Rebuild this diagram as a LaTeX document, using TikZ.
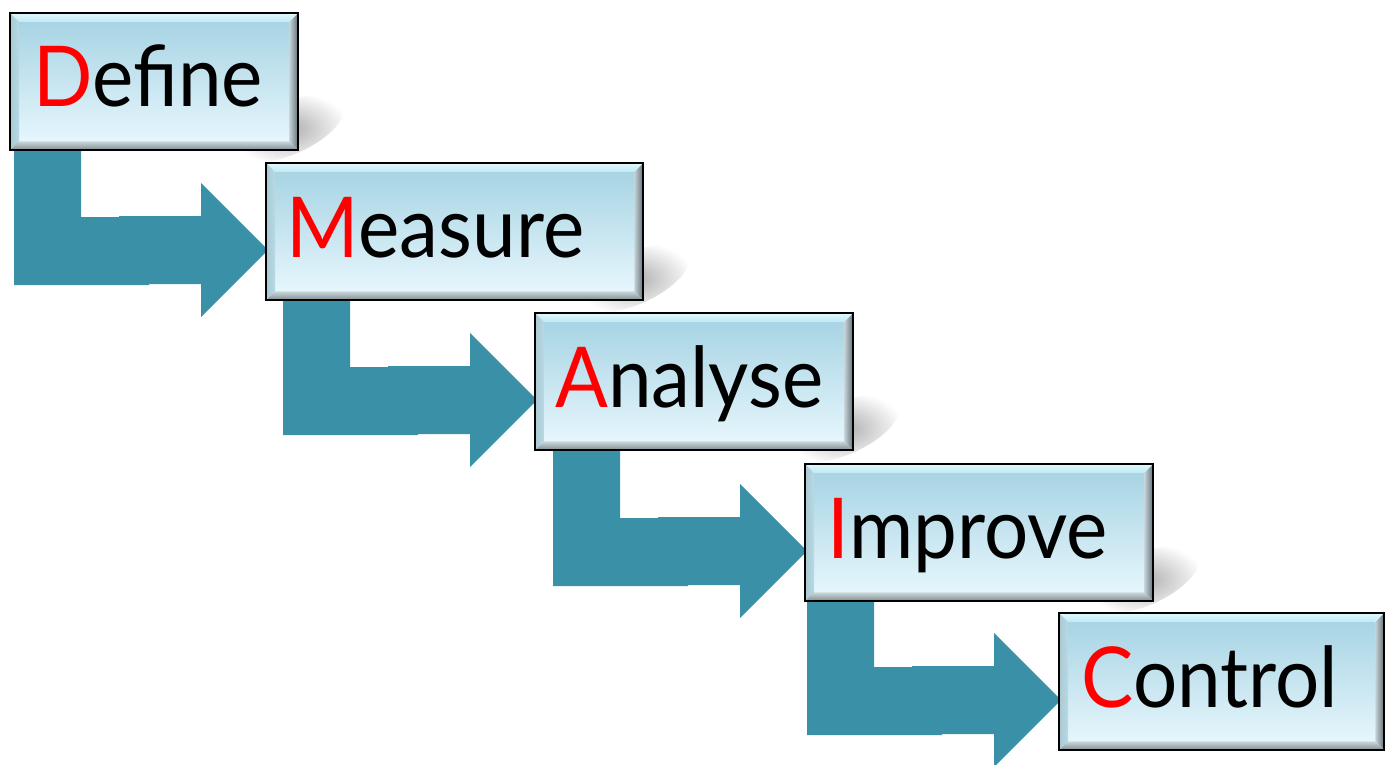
\documentclass[tikz,border=0pt]{standalone}
\usepackage{fontspec}
\setmainfont{Lato}[FakeStretch=0.93]
\usetikzlibrary{calc}
\definecolor{arrowteal}{HTML}{3A90A7}
\definecolor{facetop}{HTML}{A8D4E4}
\definecolor{facebot}{HTML}{E6F6FC}
\definecolor{beveltopa}{HTML}{E2FAFF}
\definecolor{beveltopb}{HTML}{BFE8F4}
\definecolor{bevelleft}{HTML}{B6DAE6}
\definecolor{bevelrightin}{HTML}{C4D2D7}
\definecolor{bevelrightout}{HTML}{5E6E74}
\definecolor{bevelbotin}{HTML}{CAD6DA}
\definecolor{bevelbotout}{HTML}{7C8A8F}
\definecolor{lettered}{HTML}{FF0000}
\tikzset{
  stagebox/.style={rectangle, inner sep=0pt, minimum height=137pt, anchor=north west},
  stagelabel/.style={inner sep=0pt, anchor=base west, font=\fontsize{84}{84}\selectfont, text=black},
  flowshape/.style={fill=arrowteal, draw=none},
}
\newcommand\drawshadow[1]{%
  \shade[inner color=black!32, outer color=white, rotate around={24:($(#1.south east)+(0,-24)$)}]
    ($(#1.south east)+(0,-24)$) ellipse [x radius=60pt, y radius=26pt];}
\newcommand\drawbevel[1]{%
  \coordinate (#1-a) at ($(#1.north west)+(9,9)$);
  \coordinate (#1-b) at ($(#1.north east)+(-9,9)$);
  \coordinate (#1-c) at ($(#1.south east)+(-9,-9)$);
  \coordinate (#1-d) at ($(#1.south west)+(9,-9)$);
  \shade[top color=facetop, bottom color=facebot] (#1-a) rectangle (#1-c);
  \shade[top color=beveltopa, bottom color=beveltopb] (#1.north west) -- (#1.north east) -- (#1-b) -- (#1-a) -- cycle;
  \shade[left color=bevelleft!80!gray, right color=bevelleft] (#1.north west) -- (#1-a) -- (#1-d) -- (#1.south west) -- cycle;
  \shade[left color=bevelrightin, right color=bevelrightout] (#1.north east) -- (#1.south east) -- (#1-c) -- (#1-b) -- cycle;
  \shade[top color=bevelbotin, bottom color=bevelbotout] (#1.south west) -- (#1.south east) -- (#1-c) -- (#1-d) -- cycle;
  \draw[line width=2pt, black] (#1.north west) rectangle (#1.south east);}
\newcommand\drawflow[2]{% #1 target node, #2 name prefix
  \fill[flowshape] ($(#1.north west)+(-252,-22)$) -- ($(#1.north west)+(-185,-22)$) -- ($(#1.north west)+(-185,54)$) -- ($(#1.north west)+(-117,54)$) -- ($(#1.north west)+(-117,122)$) -- ($(#1.north west)+(-252,122)$) -- cycle;
  \coordinate (#2-tip) at ($(#1.north west)+(2,87)$);
  \fill[flowshape] ($(#1.north west)+(-147,53)$) -- ($(#1.north west)+(-65,53)$) -- ($(#1.north west)+(-65,20)$) -- (#2-tip) -- ($(#1.north west)+(-65,154)$) -- ($(#1.north west)+(-65,121)$) -- ($(#1.north west)+(-147,121)$) -- cycle;}
\begin{document}
\begin{tikzpicture}[x=1pt, y=-1pt]
\useasboundingbox (0,0) rectangle (1385,765);
% box placeholders
\path node[stagebox, minimum width=288pt] (def) at (10,13) {}
      node[stagebox, minimum width=377pt] (mea) at (266,163) {}
      node[stagebox, minimum width=318pt] (ana) at (535,313) {}
      node[stagebox, minimum width=348pt] (imp) at (805,464) {}
      node[stagebox, minimum width=325pt] (con) at (1059,613) {};
% shadows
\drawshadow{def}
\drawshadow{mea}
\drawshadow{ana}
\drawshadow{imp}
% flow arrows
\drawflow{mea}{f1}
\drawflow{ana}{f2}
\drawflow{imp}{f3}
\drawflow{con}{f4}
% boxes
\drawbevel{def}
\drawbevel{mea}
\drawbevel{ana}
\drawbevel{imp}
\drawbevel{con}
% labels
\node[stagelabel] (defl) at ($(def.north west)+(23,94)$) {\textcolor{lettered}{D}efine};
\node[stagelabel] (meal) at ($(mea.north west)+(20,94)$) {\textcolor{lettered}{M}easure};
\node[stagelabel] (anal) at ($(ana.north west)+(20,94)$) {\textcolor{lettered}{A}nalyse};
\node[stagelabel] (impl) at ($(imp.north west)+(22,94)$) {\textcolor{lettered}{I}mprove};
\node[stagelabel] (conl) at ($(con.north west)+(22,94)$) {\textcolor{lettered}{C}ontrol};
\end{tikzpicture}
\end{document}
